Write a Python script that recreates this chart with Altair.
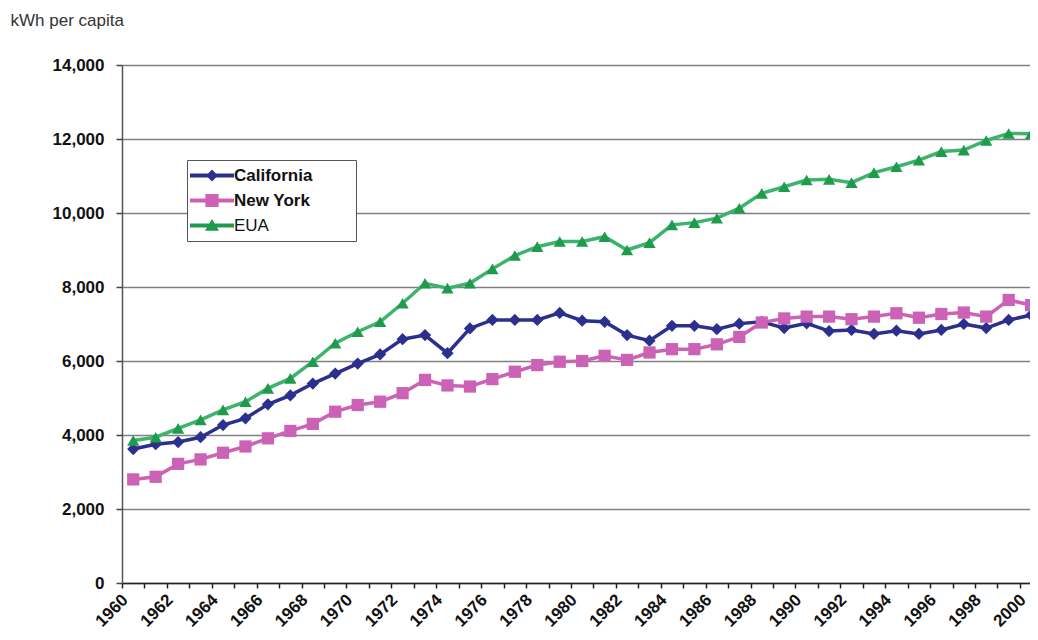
import altair as alt
import pandas as pd

years = list(range(1960, 2001))
california = [3620, 3750, 3810, 3940, 4270, 4450, 4830, 5070, 5390, 5660,
              5930, 6180, 6590, 6700, 6210, 6880, 7110, 7110, 7110, 7300,
              7090, 7060, 6700, 6550, 6950, 6950, 6860, 7010, 7060, 6890,
              7020, 6810, 6840, 6730, 6820, 6730, 6840, 7000, 6890, 7110, 7240]
new_york = [2800, 2870, 3220, 3340, 3520, 3690, 3910, 4110, 4300, 4630,
            4810, 4900, 5130, 5490, 5340, 5310, 5510, 5710, 5890, 5980,
            6000, 6140, 6030, 6230, 6320, 6320, 6450, 6650, 7040, 7150,
            7200, 7200, 7130, 7200, 7290, 7170, 7270, 7310, 7200, 7650, 7510]
eua = [3850, 3940, 4180, 4410, 4680, 4900, 5260, 5530, 5980, 6480,
       6790, 7060, 7560, 8100, 7970, 8100, 8490, 8850, 9090, 9230,
       9230, 9360, 9000, 9200, 9680, 9740, 9860, 10130, 10530, 10710,
       10890, 10910, 10820, 11090, 11250, 11430, 11660, 11700, 11960, 12150, 12140]

series_names = ["California", "New York", "EUA"]
line_colors = ["#2B2F8E", "#CC62B6", "#3DB36C"]
marker_colors = ["#2B2F8E", "#CC62B6", "#1E9B4C"]
shapes = ["diamond", "square", "triangle-up"]
y_ticks = [0, 2000, 4000, 6000, 8000, 10000, 12000, 14000]

rows = []
for name, vals in zip(series_names, [california, new_york, eua]):
    for yr, v in zip(years, vals):
        rows.append({"year": yr, "value": v, "series": name})
df = pd.DataFrame(rows)

FONT = "Liberation Sans"
x_tick_vals = [yr - 0.5 for yr in years]

x_enc = alt.X(
    "year:Q",
    scale=alt.Scale(domain=[1959.5, 1999.95], nice=False, zero=False),
    axis=alt.Axis(
        values=x_tick_vals,
        labelExpr="(datum.value + 0.5) % 2 == 0 ? format(datum.value + 0.5, 'd') : ''",
        labelAngle=-45, labelAlign="right", labelBaseline="middle",
        labelOffset=3, labelPadding=9, labelFlush=False, labelOverlap=False,
        labelBound=False,
        labelFont=FONT, labelFontSize=17, labelFontWeight="bold", labelColor="#111",
        tickSize=5, tickColor="#222", tickWidth=1.5,
        domainColor="#222", domainWidth=1.5, grid=False, title=None,
    ),
)
y_enc = alt.Y(
    "value:Q",
    scale=alt.Scale(domain=[0, 14000], nice=False),
    axis=alt.Axis(
        values=y_ticks, format=",d",
        labelFont=FONT, labelFontSize=17, labelFontWeight="bold", labelColor="#111",
        labelPadding=12, tickSize=6, tickColor="#444", tickWidth=1.5,
        domainColor="#555", domainWidth=1.5,
        grid=True, gridColor="#808080", gridWidth=1.5,
        title="kWh per capita", titleAngle=0, titleAlign="left",
        titleBaseline="alphabetic", titleX=-112, titleY=-40,
        titleFont=FONT, titleFontSize=17, titleFontWeight="normal", titleColor="#333",
    ),
)

p_cal = "M-1,-0.09L1,-0.09L1,0.09L-1,0.09Z M0,-0.27L0.27,0L0,0.27L-0.27,0Z"
p_ny = "M-1,-0.09L1,-0.09L1,0.09L-1,0.09Z M-0.3,-0.3L0.3,-0.3L0.3,0.3L-0.3,0.3Z"
p_eua = "M-1,-0.09L1,-0.09L1,0.09L-1,0.09Z M0,-0.3L0.32,0.24L-0.32,0.24Z"
sym_expr = ("datum.value == 'California' ? '%s' : (datum.value == 'New York' ? '%s' : '%s')"
            % (p_cal, p_ny, p_eua))

lines = alt.Chart(df).mark_line(strokeWidth=3.5, clip=True).encode(
    x=x_enc, y=y_enc,
    color=alt.Color("series:N", scale=alt.Scale(domain=series_names, range=line_colors), legend=None),
)

points = alt.Chart(df).mark_point(filled=True, opacity=1, size=150, strokeWidth=0, clip=True).encode(
    x=x_enc, y=y_enc,
    color=alt.Color(
        "series:N",
        scale=alt.Scale(domain=series_names, range=marker_colors),
        legend=alt.Legend(
            title="EUA", titleOrient="right", titleOpacity=0, titleFontSize=17,
            titleFont=FONT, titleFontWeight="normal", titlePadding=6,
            orient="none", legendX=65, legendY=95,
            symbolType=alt.ExprRef(expr=sym_expr),
            symbolSize=1936, symbolStrokeWidth=0, symbolOpacity=1,
            clipHeight=25, rowPadding=0, padding=3,
            labelFont=FONT, labelFontSize=17, labelColor="#111",
            labelFontWeight=alt.ExprRef(expr="datum.label == 'EUA' ? 'normal' : 'bold'"),
            labelOffset=0, labelLimit=300,
            strokeColor="#555", fillColor="white",
        ),
    ),
    shape=alt.Shape("series:N", scale=alt.Scale(domain=series_names, range=shapes), legend=None),
)

chart = alt.layer(lines, points).resolve_scale(color="independent").properties(
    width=908, height=518,
    autosize=alt.AutoSizeParams(type="none"),
    padding={"left": 114, "top": 57, "right": 0, "bottom": 49},
    background="white",
).configure_view(stroke=None)

chart.save("out.html", embed_options={"renderer": "svg", "actions": False})
